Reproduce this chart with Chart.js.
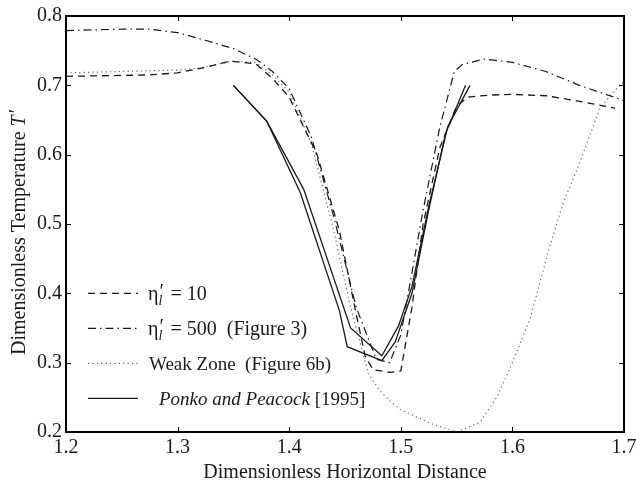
<!DOCTYPE html>
<html>
<head>
<meta charset="utf-8">
<script src="https://cdn.jsdelivr.net/npm/chart.js@4"></script>
<style>
  html, body { margin: 0; padding: 0; background: #fff; }
</style>
</head>
<body>
<canvas id="myChart" width="636" height="488"></canvas>
<script>
// values
const xTicks = [1.2, 1.3, 1.4, 1.5, 1.6, 1.7]
const yTicks = [0.2, 0.3, 0.4, 0.5, 0.6, 0.7, 0.8]

// eta_l' = 10 (dashed)
const eta10X = [1.20, 1.24, 1.275, 1.30, 1.325, 1.347, 1.37, 1.385, 1.40, 1.425, 1.445, 1.46, 1.468, 1.475, 1.49, 1.50, 1.51, 1.52, 1.535, 1.55, 1.56, 1.58, 1.60, 1.63, 1.66, 1.692]
const eta10Y = [0.713, 0.714, 0.715, 0.718, 0.726, 0.735, 0.731, 0.71, 0.683, 0.60, 0.49, 0.37, 0.31, 0.29, 0.286, 0.288, 0.38, 0.50, 0.61, 0.67, 0.683, 0.686, 0.687, 0.685, 0.677, 0.667]

// eta_l' = 500 (dash-dot)
const eta500X = [1.20, 1.225, 1.25, 1.275, 1.30, 1.325, 1.35, 1.371, 1.385, 1.40, 1.42, 1.44, 1.46, 1.478, 1.49, 1.50, 1.51, 1.52, 1.535, 1.548, 1.555, 1.575, 1.60, 1.63, 1.66, 1.70]
const eta500Y = [0.779, 0.780, 0.781, 0.781, 0.776, 0.765, 0.753, 0.737, 0.72, 0.695, 0.625, 0.51, 0.38, 0.305, 0.30, 0.34, 0.43, 0.52, 0.64, 0.72, 0.73, 0.738, 0.733, 0.72, 0.70, 0.678]

// weak zone (dotted)
const weakX = [1.20, 1.25, 1.30, 1.32, 1.35, 1.37, 1.385, 1.40, 1.42, 1.44, 1.455, 1.471, 1.481, 1.49, 1.50, 1.511, 1.529, 1.55, 1.571, 1.586, 1.60, 1.616, 1.633, 1.645, 1.658, 1.678, 1.69, 1.70]
const weakY = [0.718, 0.72, 0.722, 0.725, 0.735, 0.733, 0.715, 0.69, 0.615, 0.49, 0.38, 0.284, 0.26, 0.245, 0.232, 0.224, 0.211, 0.20, 0.214, 0.25, 0.30, 0.364, 0.465, 0.528, 0.579, 0.665, 0.69, 0.705]

// Ponko and Peacock [1995] (two solid traces)
const ponkoAX = [1.35, 1.38, 1.41, 1.445, 1.452, 1.483, 1.495, 1.51, 1.525, 1.54, 1.558]
const ponkoAY = [0.70, 0.648, 0.545, 0.375, 0.323, 0.303, 0.33, 0.40, 0.52, 0.63, 0.70]
const ponkoBX = [1.35, 1.38, 1.413, 1.455, 1.483, 1.498, 1.51, 1.525, 1.542, 1.562]
const ponkoBY = [0.70, 0.648, 0.55, 0.35, 0.31, 0.353, 0.41, 0.525, 0.64, 0.70]

const serif = '"Liberation Serif", "DejaVu Serif", serif'
const ink = '#1a1a1a'

// pair up x and y arrays
const toPoints = (xs, ys) => xs.map((x, i) => ({x, y: ys[i]}))

// line look for each series
const styles = {
  eta10: {dash: [7, 5], color: ink, width: 1.3},
  eta500: {dash: [8, 4, 1.5, 4], color: ink, width: 1.2},
  weak: {dash: [1.2, 3.2], color: '#666', width: 1.2},
  ponko: {dash: [], color: ink, width: 1.3}
}

const makeSet = (xs, ys, st) => ({
  data: toPoints(xs, ys),
  borderColor: st.color,
  borderWidth: st.width,
  borderDash: st.dash,
  pointRadius: 0,
  tension: 0,
  fill: false
})

// frame and inward ticks
const framePlugin = {
  id: 'frame',
  afterDraw(chart) {
    const g = chart.ctx
    const a = chart.chartArea
    const xs = chart.scales.x
    const ys = chart.scales.y
    g.save()
    g.fillStyle = '#000'
    g.fillRect(a.left - 1, a.top - 1, a.right - a.left + 2, 2)
    g.fillRect(a.left - 1, a.bottom - 1, a.right - a.left + 2, 2)
    g.fillRect(a.left - 1, a.top - 1, 2, a.bottom - a.top + 2)
    g.fillRect(a.right - 1, a.top - 1, 2, a.bottom - a.top + 2)
    const tl = 5
    xTicks.forEach(v => {
      const px = Math.round(xs.getPixelForValue(v))
      g.fillRect(px, a.bottom - tl, 1, tl)
      g.fillRect(px, a.top, 1, tl)
    })
    yTicks.forEach(v => {
      const py = Math.round(ys.getPixelForValue(v))
      g.fillRect(a.left, py, tl, 1)
      g.fillRect(a.right - tl, py, tl, 1)
    })
    g.restore()
  }
}

// titles and legend
const textPlugin = {
  id: 'texts',
  afterDraw(chart) {
    const g = chart.ctx
    const area = chart.chartArea
    const ys = chart.scales.y
    g.save()
    g.fillStyle = ink

    // x title
    g.font = '20px ' + serif
    g.textAlign = 'center'
    g.textBaseline = 'middle'
    g.fillText('Dimensionless Horizontal Distance', (area.left + area.right) / 2, area.bottom + 41)

    // y title, with italic T
    g.save()
    g.translate(20, (area.top + area.bottom) / 2 + 8)
    g.rotate(-Math.PI / 2)
    g.textAlign = 'left'
    const partA = 'Dimensionless Temperature '
    g.font = '20px ' + serif
    const wA = g.measureText(partA).width
    g.font = 'italic 20px ' + serif
    const wT = g.measureText('T').width
    g.font = '20px ' + serif
    const wP = g.measureText('\u2032').width
    let cx = -(wA + wT + wP + 2) / 2
    g.fillText(partA, cx, 0)
    cx += wA
    g.font = 'italic 20px ' + serif
    g.fillText('T', cx, 0)
    cx += wT + 2
    g.font = '20px ' + serif
    g.fillText('\u2032', cx, -2)
    g.restore()

    // legend samples
    const lx0 = area.left + 22
    const lx1 = area.left + 72
    const tx = area.left + 82
    const rowY = [ys.getPixelForValue(0.4), 0, 0, 0]
    for (let i = 1; i < 4; i++) rowY[i] = rowY[0] + i * 35
    const rows = [styles.eta10, styles.eta500, styles.weak, styles.ponko]
    rows.forEach((st, i) => {
      g.strokeStyle = st.color
      g.lineWidth = st.width
      g.setLineDash(st.dash)
      g.beginPath()
      g.moveTo(lx0, rowY[i]); g.lineTo(lx1, rowY[i])
      g.stroke()
    })
    g.setLineDash([])
    g.textAlign = 'left'
    g.textBaseline = 'alphabetic'

    // eta_l' labels
    const etaLabel = (y, rest) => {
      let x = tx
      g.font = '20px ' + serif
      g.fillText('\u03b7', x, y)
      x += g.measureText('\u03b7').width
      g.font = 'italic 14px ' + serif
      g.fillText('l', x, y + 5)
      g.font = '20px ' + serif
      g.fillText('\u2032', x + 1, y - 2)
      x += 7
      g.fillText(rest, x, y)
    }
    etaLabel(rowY[0] + 7, ' = 10')
    etaLabel(rowY[1] + 7, ' = 500  (Figure 3)')
    g.font = '19px ' + serif
    g.fillText('Weak Zone  (Figure 6b)', tx + 1, rowY[2] + 7)
    g.font = 'italic 19px ' + serif
    const pp = 'Ponko and Peacock'
    g.fillText(pp, tx + 11, rowY[3] + 7)
    const wpp = g.measureText(pp).width
    g.font = '19px ' + serif
    g.fillText(' [1995]', tx + 11 + wpp, rowY[3] + 7)

    g.restore()
  }
}

const canvas = document.getElementById('myChart')
const chart = new Chart(canvas, {
  type: 'line',
  data: {
    datasets: [
      makeSet(eta10X, eta10Y, styles.eta10),
      makeSet(eta500X, eta500Y, styles.eta500),
      makeSet(weakX, weakY, styles.weak),
      makeSet(ponkoAX, ponkoAY, styles.ponko),
      makeSet(ponkoBX, ponkoBY, styles.ponko)
    ]
  },
  options: {
    responsive: false,
    animation: false,
    layout: {padding: {top: 13, right: 12}},
    plugins: {legend: {display: false}, tooltip: {enabled: false}},
    scales: {
      x: {
        type: 'linear',
        min: 1.2,
        max: 1.7,
        grid: {display: false, drawTicks: false},
        border: {display: false},
        afterBuildTicks: scale => { scale.ticks = xTicks.map(v => ({value: v})) },
        afterFit: scale => { scale.height = 56; scale.paddingLeft = 0; scale.paddingRight = 0 },
        ticks: {
          padding: 4,
          maxRotation: 0,
          color: ink,
          font: {family: serif, size: 20},
          callback: v => v.toFixed(1)
        }
      },
      y: {
        type: 'linear',
        min: 0.2,
        max: 0.8,
        grid: {display: false, drawTicks: false},
        border: {display: false},
        afterBuildTicks: scale => { scale.ticks = yTicks.map(v => ({value: v})) },
        afterFit: scale => { scale.width = 66 },
        ticks: {
          padding: 4,
          color: ink,
          font: {family: serif, size: 20},
          callback: v => v.toFixed(1)
        }
      }
    }
  },
  plugins: [framePlugin, textPlugin]
})
</script>
</body>
</html>
